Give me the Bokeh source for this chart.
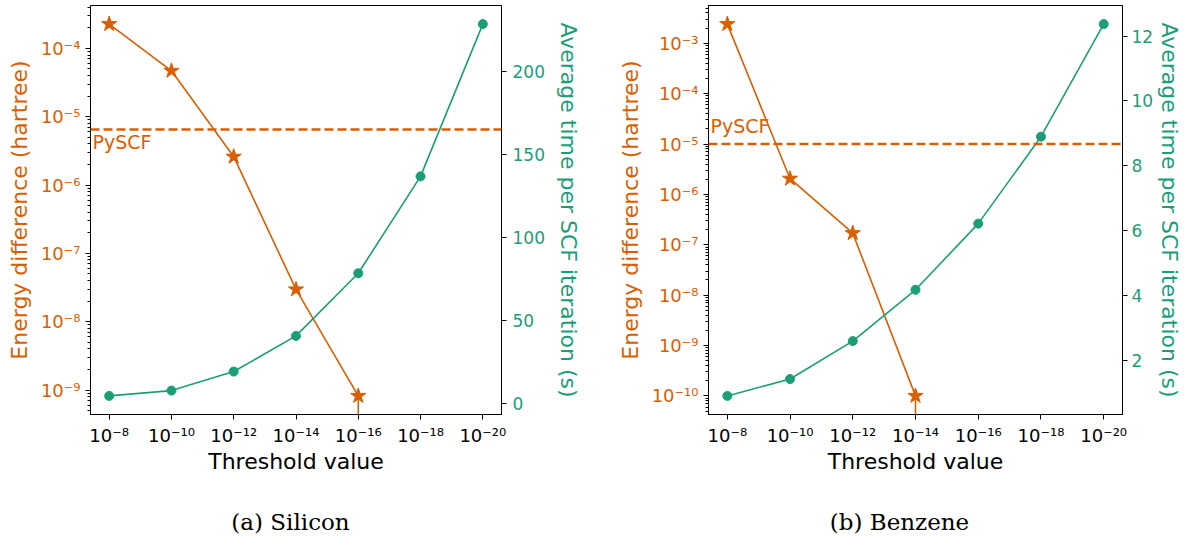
import math
from bokeh.plotting import figure
from bokeh.models import (LinearAxis, Range1d, FixedTicker, SingleIntervalTicker, Span, Label,
                          CustomJSTickFormatter, ColumnDataSource, LinearScale)
from bokeh.layouts import row, column
from bokeh.embed import file_html
from bokeh.resources import INLINE

# ---------------- data ----------------
threshold_labels = ["10⁻⁸", "10⁻¹⁰", "10⁻¹²", "10⁻¹⁴", "10⁻¹⁶", "10⁻¹⁸", "10⁻²⁰"]

si_energy = [2.27e-4, 4.7e-5, 2.6e-6, 2.97e-8, 8.2e-10, 0.0, 0.0]   # hartree (0 = below log axis)
si_time = [4.4, 7.6, 19.1, 40.6, 78.4, 136.9, 228.8]               # s
si_pyscf = 6.5e-6

bz_energy = [2.4e-3, 2.05e-6, 1.7e-7, 1.0e-10, 0.0, 0.0, 0.0]
bz_time = [0.91, 1.43, 2.6, 4.18, 6.22, 8.9, 12.37]
bz_pyscf = 1.0e-5

captions = ["(a) Silicon", "(b) Benzene"]

ORANGE = "#d95f02"
GREEN = "#1b9e77"
SANS = "DejaVu Sans"
POW_FS = "18px"
TICK_FS = "17px"
LABEL_FS = "22px"
MAIN_H = 486
CAP_H = 48

SUP_JS = """
const sup = {"-":"\u207b","0":"\u2070","1":"\u00b9","2":"\u00b2","3":"\u00b3","4":"\u2074",
             "5":"\u2075","6":"\u2076","7":"\u2077","8":"\u2078","9":"\u2079"};
const e = Math.round(Math.log10(tick));
return "10" + String(e).split("").map(c => sup[c]).join("");
"""


def make_panel(energy, time, pyscf, width, b_left, b_right, t_interval, pyscf_above,
               r_label_standoff, r_axis_standoff):
    n = len(energy)
    xs = list(range(n))
    pos_x = [x for x, e in zip(xs, energy) if e > 0]
    pos_e = [e for e in energy if e > 0]
    logs = [math.log10(e) for e in pos_e]
    lo, hi = min(logs), max(logs)
    m = 0.05 * (hi - lo)
    y0, y1 = 10 ** (lo - m), 10 ** (hi + m)
    tlo, thi = min(time), max(time)
    tm = 0.05 * (thi - tlo)
    xpad = 0.05 * (n - 1)

    p = figure(width=width, height=MAIN_H, x_range=Range1d(-xpad, n - 1 + xpad),
               y_range=Range1d(y0, y1), y_axis_type="log",
               output_backend="svg", toolbar_location=None,
               min_border_left=b_left, min_border_right=b_right,
               min_border_top=5, min_border_bottom=MAIN_H - 5 - 409)
    p.extra_y_ranges = {"time": Range1d(tlo - tm, thi + tm)}
    p.extra_y_scales = {"time": LinearScale()}
    p.xgrid.visible = False
    p.ygrid.visible = False
    p.outline_line_color = "black"
    p.outline_line_width = 1
    p.background_fill_color = "white"
    p.border_fill_color = "white"

    # x axis
    xa = p.xaxis[0]
    xa.ticker = FixedTicker(ticks=xs)
    xa.major_label_overrides = {i: lab for i, lab in enumerate(threshold_labels)}
    xa.axis_label = "Threshold value"
    xa.axis_label_text_font = SANS
    xa.axis_label_text_font_size = LABEL_FS
    xa.axis_label_text_font_style = "normal"
    xa.axis_label_text_color = "black"
    xa.axis_label_standoff = 0
    xa.major_label_text_font = SANS
    xa.major_label_text_font_size = POW_FS
    xa.major_label_text_color = "black"
    xa.major_label_standoff = 5
    xa.major_tick_out = 5
    xa.major_tick_in = 0
    xa.minor_tick_line_color = None
    xa.axis_line_color = "black"

    # left log axis
    majors = list(range(math.floor(lo - m), math.ceil(hi + m) + 1))
    major_ticks = [10.0 ** k for k in majors]
    minor_ticks = [j * 10.0 ** k for k in majors for j in range(2, 10)]
    ya = p.yaxis[0]
    ya.ticker = FixedTicker(ticks=major_ticks, minor_ticks=minor_ticks)
    ya.formatter = CustomJSTickFormatter(code=SUP_JS)
    ya.axis_label = "Energy difference (hartree)"
    ya.axis_label_text_font = SANS
    ya.axis_label_text_font_size = LABEL_FS
    ya.axis_label_text_font_style = "normal"
    ya.axis_label_text_color = ORANGE
    ya.axis_label_standoff = 6
    ya.major_label_text_font = SANS
    ya.major_label_text_font_size = POW_FS
    ya.major_label_text_color = ORANGE
    ya.major_tick_out = 5
    ya.major_tick_in = 0
    ya.minor_tick_out = 3
    ya.minor_tick_in = 0
    ya.axis_line_color = "black"

    # right linear axis
    ra = LinearAxis(y_range_name="time",
                    ticker=SingleIntervalTicker(interval=t_interval, num_minor_ticks=0),
                    axis_label="Average time per SCF iteration (s)")
    ra.axis_label_text_font = SANS
    ra.axis_label_text_font_size = LABEL_FS
    ra.axis_label_text_font_style = "normal"
    ra.axis_label_text_color = GREEN
    ra.axis_label_standoff = r_axis_standoff
    ra.major_label_text_font = SANS
    ra.major_label_text_font_size = TICK_FS
    ra.major_label_text_color = GREEN
    ra.major_label_standoff = r_label_standoff
    ra.major_tick_out = 5
    ra.major_tick_in = 0
    ra.minor_tick_line_color = None
    ra.axis_line_color = "black"
    p.add_layout(ra, "right")

    # PySCF reference line
    p.add_layout(Span(location=pyscf, dimension="width", line_color=ORANGE,
                      line_width=2.5, line_dash="9 4"))
    p.add_layout(Label(x=-xpad, y=pyscf, x_offset=2,
                       y_offset=(18 if pyscf_above else -12),
                       text="PySCF", text_font=SANS, text_font_size="19px",
                       text_color=ORANGE, text_baseline="alphabetic", text_align="left"))

    # energy series
    src_e = ColumnDataSource(dict(x=pos_x, y=pos_e))
    p.line("x", "y", source=src_e, line_color=ORANGE, line_width=1.6)
    # drop to the bottom of the log axis where the difference becomes zero
    p.segment(x0=[pos_x[-1]], y0=[pos_e[-1]], x1=[pos_x[-1]], y1=[y0 * 0.1],
              line_color=ORANGE, line_width=1.6)
    p.scatter("x", "y", source=src_e, marker="star", size=16, fill_color=ORANGE,
              line_color=ORANGE)

    # time series
    src_t = ColumnDataSource(dict(x=xs, y=time))
    p.line("x", "y", source=src_t, line_color=GREEN, line_width=1.6, y_range_name="time")
    p.scatter("x", "y", source=src_t, marker="circle", size=9, fill_color=GREEN,
              line_color=GREEN, y_range_name="time")
    return p


W1, W2 = 600, 585
p1 = make_panel(si_energy, si_time, si_pyscf, width=W1, b_left=90, b_right=99,
                t_interval=50, pyscf_above=False, r_label_standoff=6, r_axis_standoff=8)
p2 = make_panel(bz_energy, bz_time, bz_pyscf, width=W2, b_left=108, b_right=63,
                t_interval=2, pyscf_above=True, r_label_standoff=4, r_axis_standoff=1)

# caption strip under both panels
CAP_W = W1 + W2
cap = figure(width=CAP_W, height=CAP_H, x_range=Range1d(0, CAP_W), y_range=Range1d(0, CAP_H),
             output_backend="svg", toolbar_location=None,
             min_border_left=0, min_border_right=0, min_border_top=0, min_border_bottom=0)
cap.axis.visible = False
cap.grid.visible = False
cap.outline_line_color = None
cap.background_fill_color = "white"
cap.border_fill_color = "white"
for text, cx in zip(captions, [290, 899]):
    cap.add_layout(Label(x=cx, y=13, text=text, text_font="DejaVu Serif",
                         text_font_size="23px", text_color="black",
                         text_align="center", text_baseline="alphabetic"))

layout = column(row(p1, p2), cap)
open("out.html", "w").write(file_html(layout, INLINE))
